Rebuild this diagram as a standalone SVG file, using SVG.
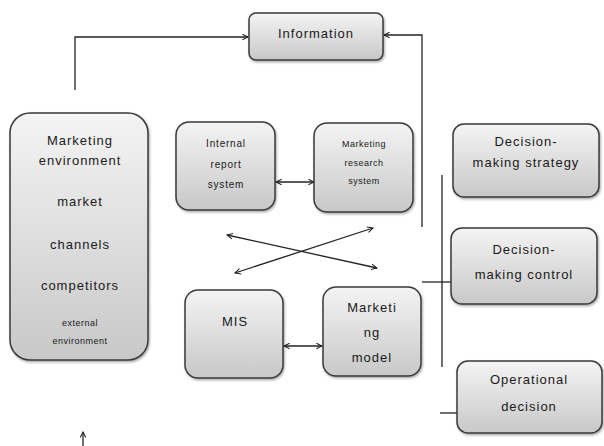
<svg xmlns="http://www.w3.org/2000/svg" width="604" height="446" viewBox="0 0 604 446">
<defs>
<linearGradient id="g" x1="0" y1="0" x2="0" y2="1">
<stop offset="0" stop-color="#f4f4f4"/>
<stop offset="1" stop-color="#c8c8c8"/>
</linearGradient>
<filter id="sh" x="-10%" y="-10%" width="130%" height="130%">
<feDropShadow dx="1" dy="1.5" stdDeviation="1" flood-color="#000" flood-opacity="0.35"/>
</filter>
<marker id="ah" viewBox="0 0 10 10" refX="9" refY="5" markerWidth="7" markerHeight="7" orient="auto-start-reverse" markerUnits="userSpaceOnUse">
<path d="M1,1 L9,5 L1,9" fill="none" stroke="#222" stroke-width="1.5"/>
</marker>
<style>
.box{fill:url(#g);stroke:#3a3a3a;stroke-width:1.5;filter:url(#sh)}
.t{font-family:"Liberation Sans",Arial,sans-serif;fill:#1a1a1a;text-anchor:middle;font-size:13px;letter-spacing:1px}
.s{font-size:10px;letter-spacing:0.8px}
.xs{font-size:9px;letter-spacing:0.5px}
.c{fill:none;stroke:#222;stroke-width:1.3}
</style>
</defs>
<g id="connectors">
<polyline class="c" points="75,90 75,37 248,37" marker-end="url(#ah)"/>
<polyline class="c" points="422,227 422,35 384,35" marker-end="url(#ah)"/>
<line class="c" x1="276" y1="182" x2="314" y2="182" marker-start="url(#ah)" marker-end="url(#ah)"/>
<line class="c" x1="227" y1="235" x2="377" y2="268" marker-start="url(#ah)" marker-end="url(#ah)"/>
<line class="c" x1="235" y1="273" x2="373" y2="228" marker-start="url(#ah)" marker-end="url(#ah)"/>
<line class="c" x1="284" y1="346" x2="322" y2="346" marker-start="url(#ah)" marker-end="url(#ah)"/>
<line class="c" x1="442" y1="175" x2="442" y2="367"/>
<line class="c" x1="422" y1="282" x2="451" y2="282"/>
<line class="c" x1="440" y1="413" x2="457" y2="413"/>
<line class="c" x1="83" y1="446" x2="83" y2="432" marker-end="url(#ah)"/>
</g>
<g id="information">
<rect class="box" x="249" y="13" width="134" height="47" rx="7"/>
<text class="t" x="316" y="38">Information</text>
</g>
<g id="marketing-environment">
<rect class="box" x="10" y="113" width="138" height="247" rx="20"/>
<text class="t" x="80" y="145">Marketing</text>
<text class="t" x="80" y="165">environment</text>
<text class="t" x="80" y="206">market</text>
<text class="t" x="80" y="249">channels</text>
<text class="t" x="80" y="290">competitors</text>
<text class="t xs" x="80" y="326">external</text>
<text class="t xs" x="80" y="344">environment</text>
</g>
<g id="internal-report">
<rect class="box" x="176" y="122" width="99" height="88" rx="13"/>
<text class="t s" x="226" y="147">Internal</text>
<text class="t s" x="226" y="168">report</text>
<text class="t s" x="226" y="188">system</text>
</g>
<g id="marketing-research">
<rect class="box" x="314" y="123" width="99" height="89" rx="13"/>
<text class="t xs" x="364" y="147">Marketing</text>
<text class="t xs" x="364" y="166">research</text>
<text class="t xs" x="364" y="184">system</text>
</g>
<g id="decision-strategy">
<rect class="box" x="453" y="124" width="146" height="73" rx="11"/>
<text class="t" x="526" y="146">Decision-</text>
<text class="t" x="526" y="167">making strategy</text>
</g>
<g id="decision-control">
<rect class="box" x="451" y="228" width="146" height="76" rx="11"/>
<text class="t" x="524" y="254">Decision-</text>
<text class="t" x="524" y="279">making control</text>
</g>
<g id="mis">
<rect class="box" x="185" y="290" width="98" height="88" rx="13"/>
<text class="t" x="235" y="326">MIS</text>
</g>
<g id="marketing-model">
<rect class="box" x="323" y="287" width="98" height="89" rx="13"/>
<text class="t" x="372" y="312">Marketi</text>
<text class="t" x="372" y="337">ng</text>
<text class="t" x="372" y="362">model</text>
</g>
<g id="operational-decision">
<rect class="box" x="457" y="361" width="145" height="72" rx="11"/>
<text class="t" x="529" y="384">Operational</text>
<text class="t" x="529" y="411">decision</text>
</g>
</svg>
